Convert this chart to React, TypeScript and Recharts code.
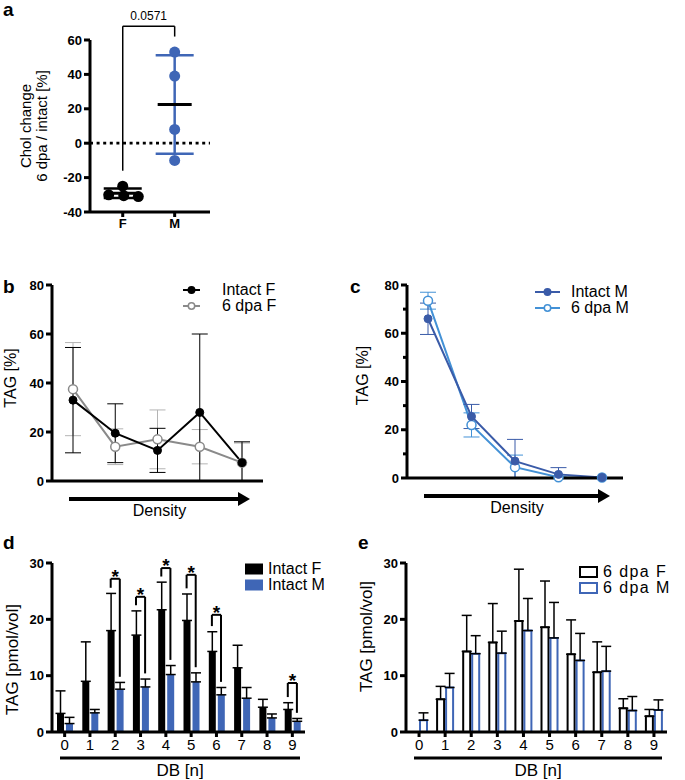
import React from 'react';
import {
  ComposedChart,
  Line,
  Bar,
  Scatter,
  XAxis,
  YAxis,
  ErrorBar,
  ReferenceLine,
  Legend,
} from 'recharts';

const FONT = '"Liberation Sans", Arial, Helvetica, sans-serif';

// panel a: cholesterol change per sex
const groups = ['F', 'M'];
const cholF = [-25, -30, -30.5, -31];
const cholM = [53, 39, 8, -10];
const cholMean = [-29.1, 22.5];
const cholSd = [2.8, 28.7];
const fJitter = [0, -0.27, 0.02, 0.3];
const pValue = '0.0571';

// panels b + c: TAG across density fractions
const densityBins = ['1', '2', '3', '4', '5'];
const intactF = [33, 19.5, 12.5, 28, 7.5];
const intactFSd = [21.5, 12, 9, 32, 8.5];
const dpaF = [37.5, 14, 17, 14, 7.5];
const dpaFSd = [19, 7.3, 12, 7, 8];
const intactM = [66, 25.5, 7, 1.5, 0.2];
const intactMSd = [6.5, 5, 9, 2.8, 0];
const dpaM = [73.5, 22, 4.5, 0.3, 0.2];
const dpaMSd = [3.5, 5, 5, 0.5, 0];

// panels d + e: TAG by double bonds
const dbLabels = ['0', '1', '2', '3', '4', '5', '6', '7', '8', '9'];
const tagIntactF = [3.3, 9, 18, 17.2, 21.7, 19.8, 14.3, 11.4, 4.4, 4];
const tagIntactFSd = [4, 7, 6.6, 4.3, 4.9, 4.7, 3.5, 4, 1.4, 1.2];
const tagIntactM = [1.5, 3.4, 7.6, 8, 10.2, 8.9, 6.6, 6, 2.5, 1.9];
const tagIntactMSd = [1.1, 0.6, 1.2, 1.4, 1.6, 1.6, 1.3, 1.9, 0.7, 0.5];
const sigBins = [2, 3, 4, 5, 6, 9];
const sigTop = [27.2, 24, 29.1, 27.9, 20.8, 8.7];
const tagDpaF = [0, 5.8, 14.3, 15.9, 19.7, 18.6, 13.8, 10.6, 4.2, 2.8];
const tagDpaFSd = [0, 2.3, 6.4, 6.9, 9.2, 8.2, 6.1, 5.4, 1.7, 1.2];
const tagDpaM = [2.1, 7.9, 13.9, 14, 18, 16.7, 12.7, 10.8, 3.8, 3.9];
const tagDpaMSd = [1.3, 2.5, 3.2, 3.9, 5.7, 6.3, 4.8, 4.4, 2.5, 1.8];

const BLUE = '#3f66b6';
const DARK_BLUE = '#3a5ba8';
const LIGHT_BLUE = '#4391d6';
const GRAY = '#8a8a8a';
const GRAY_ERR = '#b4b4b4';

const axisLine = { stroke: '#000', strokeWidth: 3 };
const tickLine = { stroke: '#000', strokeWidth: 3 };
const boldTick = { fill: '#000', fontSize: 13, fontWeight: 700, fontFamily: FONT };
const plainTick = { fill: '#000', fontSize: 15, fontFamily: FONT };

// error bar that is clipped at zero, like the original plots
const clippedErr = (vals: number[], sds: number[]) => sds.map((s, i) => [Math.min(s, vals[i]), s]);

const densityData = densityBins.map((bin, i) => ({
  bin,
  intactF: intactF[i],
  intactFErr: clippedErr(intactF, intactFSd)[i],
  dpaF: dpaF[i],
  dpaFErr: clippedErr(dpaF, dpaFSd)[i],
  intactM: intactM[i],
  intactMErr: clippedErr(intactM, intactMSd)[i],
  dpaM: dpaM[i],
  dpaMErr: clippedErr(dpaM, dpaMSd)[i],
}));

const dbData = dbLabels.map((db, i) => ({
  db,
  idx: i,
  intactF: tagIntactF[i],
  intactFErr: [0, tagIntactFSd[i]],
  intactM: tagIntactM[i],
  intactMErr: [0, tagIntactMSd[i]],
  dpaF: tagDpaF[i],
  dpaFErr: [0, tagDpaFSd[i]],
  dpaM: tagDpaM[i],
  dpaMErr: [0, tagDpaMSd[i]],
}));

const yTitle = (lines: string[], dx: number[], dy: number, size: number) => (props: any) => {
  const vb = props.viewBox || { x: 0, y: 0, width: 0, height: 0 };
  const cy = vb.y + vb.height / 2 + dy;
  return (
    <g>
      {lines.map((t, i) => {
        const cx = vb.x + dx[i];
        return (
          <text
            key={t}
            x={cx}
            y={cy}
            transform={`rotate(-90 ${cx} ${cy})`}
            textAnchor="middle"
            dominantBaseline="central"
            fontSize={size}
            fontFamily={FONT}
            fill="#000"
          >
            {t}
          </text>
        );
      })}
    </g>
  );
};

const densityArrow = (props: any) => {
  const vb = props.viewBox || { x: 0, y: 0, width: 0, height: 0 };
  const y = vb.y + 18;
  const x0 = vb.x + 17;
  const x1 = vb.x + vb.width - 13;
  return (
    <g>
      <line x1={x0} x2={x1 - 10} y1={y} y2={y} stroke="#000" strokeWidth={4} />
      <polygon points={`${x1},${y} ${x1 - 12},${y - 7} ${x1 - 12},${y + 7}`} fill="#000" />
      <text x={(x0 + x1) / 2} y={y + 11} textAnchor="middle" dominantBaseline="central" fontSize={16} fontFamily={FONT} fill="#000">
        Density
      </text>
    </g>
  );
};

const dbTitle = (props: any) => {
  const vb = props.viewBox || { x: 0, y: 0, width: 0, height: 0 };
  const y = vb.y + 26;
  const x0 = vb.x + 8;
  const x1 = vb.x + vb.width - 5;
  return (
    <g>
      <line x1={x0} x2={x1} y1={y} y2={y} stroke="#000" strokeWidth={3} />
      <text x={(x0 + x1) / 2} y={y + 12} textAnchor="middle" dominantBaseline="central" fontSize={17} fontFamily={FONT} fill="#000">
        DB [n]
      </text>
    </g>
  );
};

// y axis for panel c has unlabeled minor ticks between the labelled ones
const MinorTick = (props: any) => {
  const { x, y, payload } = props;
  const axisX = x + 8;
  const major = payload.value % 20 === 0;
  return (
    <g>
      <line x1={axisX} x2={axisX - (major ? 6 : 4)} y1={y} y2={y} stroke="#000" strokeWidth={3} />
      {major && (
        <text x={x} y={y} textAnchor="end" dominantBaseline="central" {...boldTick}>
          {payload.value}
        </text>
      )}
    </g>
  );
};

type Row = { label: string; icon: React.ReactNode };
const legendRows = (rows: Row[], iconWidth: number, gap: number, rowHeight: number, fontSize = 16, spacing = 0) => () => (
  <div style={{ fontFamily: FONT, fontSize, letterSpacing: spacing, color: '#000', lineHeight: `${rowHeight}px` }}>
    {rows.map((r) => (
      <div key={r.label} style={{ display: 'flex', alignItems: 'center', whiteSpace: 'nowrap', height: rowHeight }}>
        <svg width={iconWidth} height={rowHeight} style={{ marginRight: gap, flex: 'none' }}>
          {r.icon}
        </svg>
        <span>{r.label}</span>
      </div>
    ))}
  </div>
);

const lineIcon = (w: number, h: number, color: string, open: boolean) => (
  <g>
    <line x1={0} x2={w} y1={h / 2} y2={h / 2} stroke={color} strokeWidth={2} />
    <circle cx={w / 2} cy={h / 2} r={3.2} fill={open ? '#fff' : color} stroke={color} strokeWidth={1.5} />
  </g>
);

const boxIcon = (w: number, h: number, color: string, open: boolean) =>
  open ? (
    <rect x={1} y={(h - 10) / 2} width={w - 2} height={10} fill="#fff" stroke={color} strokeWidth={2} />
  ) : (
    <rect x={0} y={(h - 11) / 2} width={w} height={11} fill={color} />
  );

const dot = (color: string) => (p: any) => <circle cx={p.cx} cy={p.cy} r={5.5} fill={color} />;
const meanShape = (p: any) => (
  <line x1={p.cx - 17} x2={p.cx + 17} y1={p.cy} y2={p.cy} stroke="#000" strokeWidth={3} />
);

function CholChart() {
  const fPts = cholF.map((y, i) => ({ x: 1 + fJitter[i], y }));
  const mPts = cholM.map((y) => ({ x: 2, y }));
  const fMean = [{ x: 1, y: cholMean[0], sd: cholSd[0] }];
  const mMean = [{ x: 2, y: cholMean[1], sd: cholSd[1] }];
  return (
    <ComposedChart width={230} height={240} margin={{ top: 40, right: 20, bottom: 0, left: 50 }}>
      <XAxis
        type="number"
        dataKey="x"
        domain={[0.37, 2.68]}
        ticks={[1, 2]}
        tickFormatter={(v: number) => groups[v - 1]}
        allowDataOverflow
        height={28}
        axisLine={axisLine}
        tickLine={tickLine}
        tickSize={5}
        tick={boldTick}
      />
      <YAxis
        type="number"
        dataKey="y"
        domain={[-40, 60]}
        ticks={[-40, -20, 0, 20, 40, 60]}
        width={40}
        axisLine={axisLine}
        tickLine={tickLine}
        tickSize={6}
        tick={boldTick}
        label={yTitle(['Chol change', '6 dpa / intact [%]'], [-25, -9], 0, 15)}
      />
      <ReferenceLine y={0} stroke="#000" strokeWidth={2.8} strokeDasharray="3 3.6" />
      <ReferenceLine segment={[{ x: 1, y: -16 }, { x: 1, y: 68 }]} stroke="#000" strokeWidth={1.5} ifOverflow="visible" />
      <ReferenceLine
        segment={[{ x: 1, y: 68 }, { x: 2, y: 68 }]}
        stroke="#000"
        strokeWidth={1.5}
        ifOverflow="visible"
        label={{ value: pValue, position: 'top', offset: 6, fontSize: 12, fill: '#000', fontFamily: FONT }}
      />
      <ReferenceLine segment={[{ x: 2, y: 68 }, { x: 2, y: 62 }]} stroke="#000" strokeWidth={1.5} ifOverflow="visible" />
      <Scatter data={fPts} shape={dot('#000')} isAnimationActive={false} />
      <Scatter data={mPts} shape={dot(BLUE)} isAnimationActive={false} />
      <Scatter data={fMean} shape={meanShape} isAnimationActive={false}>
        <ErrorBar dataKey="sd" direction="y" width={19} stroke="#000" strokeWidth={2.5} />
      </Scatter>
      <Scatter data={mMean} shape={meanShape} isAnimationActive={false}>
        <ErrorBar dataKey="sd" direction="y" width={19} stroke={BLUE} strokeWidth={2.5} />
      </Scatter>
    </ComposedChart>
  );
}

function DensityChart({ sex }: { sex: 'F' | 'M' }) {
  const isF = sex === 'F';
  const marginLeft = isF ? 12 : 27;
  const marginRight = isF ? 37 : 17;
  const bottomPlot = isF ? 211 : 208;
  const intactColor = isF ? '#000' : DARK_BLUE;
  const dpaColor = isF ? GRAY : LIGHT_BLUE;
  const dpaErrColor = isF ? GRAY_ERR : LIGHT_BLUE;
  const iconW = isF ? 17 : 25;
  const rows: Row[] = [
    { label: `Intact ${sex}`, icon: lineIcon(iconW, 16, intactColor, false) },
    { label: `6 dpa ${sex}`, icon: lineIcon(iconW, 16, dpaColor, true) },
  ];
  return (
    <ComposedChart
      width={300}
      height={250}
      data={densityData}
      margin={{ top: 15, right: marginRight, bottom: 0, left: marginLeft }}
    >
      <XAxis
        dataKey="bin"
        scale="point"
        padding={{ left: 21, right: 21 }}
        height={250 - bottomPlot}
        axisLine={axisLine}
        tickLine={tickLine}
        tickSize={10}
        tick={false}
        label={densityArrow}
      />
      {isF ? (
        <YAxis
          domain={[0, 80]}
          ticks={[0, 20, 40, 60, 80]}
          width={40}
          axisLine={axisLine}
          tickLine={tickLine}
          tickSize={6}
          tick={boldTick}
          label={yTitle(['TAG [%]'], [-2], -5, 16)}
        />
      ) : (
        <YAxis
          domain={[0, 80]}
          ticks={[0, 10, 20, 30, 40, 50, 60, 70, 80]}
          width={40}
          axisLine={axisLine}
          tickLine={false}
          tickSize={6}
          tick={<MinorTick />}
          label={yTitle(['TAG [%]'], [-5], -6, 16)}
        />
      )}
      <Legend
        layout="vertical"
        align="center"
        verticalAlign="middle"
        wrapperStyle={{ left: isF ? 183 : 195, top: isF ? 12 : 14, width: 'auto' }}
        content={legendRows(rows, iconW, isF ? 22 : 11, 16)}
      />
      <Line
        dataKey={isF ? 'dpaF' : 'dpaM'}
        stroke={dpaColor}
        strokeWidth={2}
        dot={{ r: 4.5, fill: '#fff', stroke: dpaColor, strokeWidth: 1.5 }}
        isAnimationActive={false}
      >
        <ErrorBar dataKey={isF ? 'dpaFErr' : 'dpaMErr'} width={8} stroke={dpaErrColor} strokeWidth={1} />
      </Line>
      <Line
        dataKey={isF ? 'intactF' : 'intactM'}
        stroke={intactColor}
        strokeWidth={2}
        dot={{ r: 4, fill: intactColor, stroke: intactColor, strokeWidth: 1 }}
        isAnimationActive={false}
      >
        <ErrorBar dataKey={isF ? 'intactFErr' : 'intactMErr'} width={8} stroke={intactColor} strokeWidth={1} />
      </Line>
    </ComposedChart>
  );
}

// half the distance between the two bars of a group, in category units
const BAR_OFF = 0.18;

function IntactBars() {
  const rows: Row[] = [
    { label: 'Intact F', icon: boxIcon(18, 16, '#000', false) },
    { label: 'Intact M', icon: boxIcon(18, 16, BLUE, false) },
  ];
  const bracket = { stroke: '#000', strokeWidth: 2, ifOverflow: 'visible' as const };
  return (
    <ComposedChart
      width={340}
      height={250}
      data={dbData}
      margin={{ top: 33, right: 35, bottom: 0, left: 12 }}
      barSize={7}
      barGap={2}
    >
      <XAxis
        xAxisId="cat"
        dataKey="db"
        scale="band"
        interval={0}
        height={48}
        axisLine={axisLine}
        tickLine={tickLine}
        tickSize={5}
        tick={plainTick}
        label={dbTitle}
      />
      <XAxis xAxisId="num" dataKey="idx" type="number" domain={[-0.5, 9.5]} allowDataOverflow hide />
      <YAxis
        domain={[0, 30]}
        ticks={[0, 10, 20, 30]}
        width={40}
        axisLine={axisLine}
        tickLine={tickLine}
        tickSize={6}
        tick={boldTick}
        label={yTitle(['TAG [pmol/vol]'], [0], 12, 17)}
      />
      <Legend
        layout="vertical"
        align="center"
        verticalAlign="middle"
        wrapperStyle={{ left: 245, top: 31, width: 'auto' }}
        content={legendRows(rows, 18, 5, 16)}
      />
      <Bar xAxisId="cat" dataKey="intactF" fill="#000" isAnimationActive={false}>
        <ErrorBar dataKey="intactFErr" width={5} stroke="#000" strokeWidth={1.5} />
      </Bar>
      <Bar xAxisId="cat" dataKey="intactM" fill={BLUE} isAnimationActive={false}>
        <ErrorBar dataKey="intactMErr" width={5} stroke="#000" strokeWidth={1.5} />
      </Bar>
      {sigBins.map((i, k) => {
        const xl = i - BAR_OFF;
        const xr = i + BAR_OFF;
        const top = sigTop[k];
        const lb = tagIntactF[i] + tagIntactFSd[i] + 1;
        const rb = tagIntactM[i] + tagIntactMSd[i] + 1;
        return (
          <React.Fragment key={i}>
            <ReferenceLine xAxisId="num" segment={[{ x: xl, y: lb }, { x: xl, y: top }]} {...bracket} />
            <ReferenceLine
              xAxisId="num"
              segment={[{ x: xl, y: top }, { x: xr, y: top }]}
              {...bracket}
              label={{ value: '*', position: 'top', offset: -4, fontSize: 19, fontWeight: 700, fill: '#000', fontFamily: FONT }}
            />
            <ReferenceLine xAxisId="num" segment={[{ x: xr, y: top }, { x: xr, y: rb }]} {...bracket} />
          </React.Fragment>
        );
      })}
    </ComposedChart>
  );
}

function DpaBars() {
  const rows: Row[] = [
    { label: '6 dpa F', icon: boxIcon(19, 16, '#000', true) },
    { label: '6 dpa M', icon: boxIcon(19, 16, BLUE, true) },
  ];
  return (
    <ComposedChart
      width={345}
      height={250}
      data={dbData}
      margin={{ top: 33, right: 18, bottom: 0, left: 26 }}
      barSize={7}
      barGap={2}
    >
      <XAxis
        dataKey="db"
        scale="band"
        interval={0}
        height={48}
        axisLine={axisLine}
        tickLine={tickLine}
        tickSize={5}
        tick={plainTick}
        label={dbTitle}
      />
      <YAxis
        domain={[0, 30]}
        ticks={[0, 10, 20, 30]}
        width={40}
        axisLine={axisLine}
        tickLine={tickLine}
        tickSize={6}
        tick={boldTick}
        label={yTitle(['TAG  [pmol/vol]'], [0], -11, 17)}
      />
      <Legend
        layout="vertical"
        align="center"
        verticalAlign="middle"
        wrapperStyle={{ left: 239, top: 34, width: 'auto' }}
        content={legendRows(rows, 19, 5, 16, 16, 1.4)}
      />
      <Bar dataKey="dpaF" fill="#fff" stroke="#000" strokeWidth={2} isAnimationActive={false}>
        <ErrorBar dataKey="dpaFErr" width={5} stroke="#000" strokeWidth={1.5} />
      </Bar>
      <Bar dataKey="dpaM" fill="#fff" stroke={BLUE} strokeWidth={2} isAnimationActive={false}>
        <ErrorBar dataKey="dpaMErr" width={5} stroke="#000" strokeWidth={1.5} />
      </Bar>
    </ComposedChart>
  );
}

const letter = (ch: string, left: number, top: number) => (
  <div style={{ position: 'absolute', left, top, fontSize: 19, fontWeight: 700, fontFamily: FONT, lineHeight: '20px' }}>
    {ch}
  </div>
);

export default function App() {
  return (
    <div
      style={{
        position: 'absolute',
        left: 0,
        top: 0,
        width: 685,
        height: 780,
        overflow: 'hidden',
        background: '#fff',
        fontFamily: FONT,
      }}
    >
      {letter('a', 3, 0)}
      {letter('b', 3, 277)}
      {letter('c', 350, 277)}
      {letter('d', 3, 533)}
      {letter('e', 358, 533)}
      <div style={{ position: 'absolute', left: 0, top: 0 }}>
        <CholChart />
      </div>
      <div style={{ position: 'absolute', left: 0, top: 270 }}>
        <DensityChart sex="F" />
      </div>
      <div style={{ position: 'absolute', left: 340, top: 270 }}>
        <DensityChart sex="M" />
      </div>
      <div style={{ position: 'absolute', left: 0, top: 530 }}>
        <IntactBars />
      </div>
      <div style={{ position: 'absolute', left: 340, top: 530 }}>
        <DpaBars />
      </div>
    </div>
  );
}
